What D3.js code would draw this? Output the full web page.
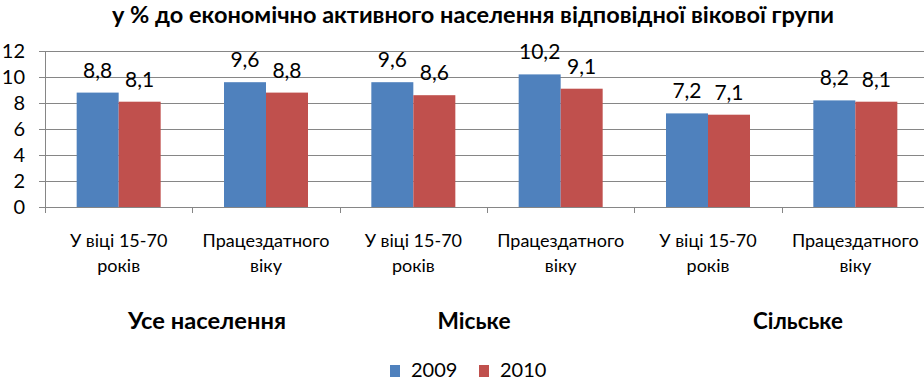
<!DOCTYPE html>
<html><head><meta charset="utf-8">
<script src="https://cdn.jsdelivr.net/npm/d3@7"></script>
<style>body{margin:0;background:#fff}svg{display:block}text{font-family:Lato,"Open Sans",sans-serif}</style>
</head><body><svg id="c" width="924" height="379"></svg>
<script>
const categories = ["У віці 15-70|років","Працездатного|віку","У віці 15-70|років","Працездатного|віку","У віці 15-70|років","Працездатного|віку"];
const groups = ["Усе населення","Міське","Сільське"];
const groupCenters = [207,474,798];
const groupWidths = [158,73,90];
const seriesNames = ["2009","2010"];
const v2009 = [8.8,9.6,9.6,10.2,7.2,8.2];
const v2010 = [8.1,8.8,8.6,9.1,7.1,8.1];
const labels2009 = ["8,8","9,6","9,6","10,2","7,2","8,2"];
const labels2010 = ["8,1","8,8","8,6","9,1","7,1","8,1"];
const yTicks = [0,2,4,6,8,10,12];
const colors = ["#4F81BD","#C0504D"];
const title = "у % до економічно активного населення відповідної вікової групи";

(function(){
const svg = d3.select("#c");
const pL=45, pR=929, pT=51, pB=207;
const x = d3.scaleBand().domain(d3.range(categories.length)).range([pL,pR]);
const y = d3.scaleLinear().domain([0,12]).range([pB,pT]);
const barW = 42;
const x1 = d3.scaleBand().domain([0,1]).range([0,barW*2]);

svg.append("text").attr("x",473).attr("y",23).attr("text-anchor","middle")
  .attr("font-weight","bold").attr("font-size",22)
  .attr("textLength",722).attr("lengthAdjust","spacingAndGlyphs").text(title);

svg.append("g").selectAll("line").data(yTicks).join("line")
  .attr("x1",pL-6).attr("x2",924).attr("y1",d=>Math.round(y(d))+0.5).attr("y2",d=>Math.round(y(d))+0.5)
  .attr("stroke","#868686").attr("stroke-width",1);
svg.append("line").attr("x1",pL+0.5).attr("x2",pL+0.5).attr("y1",pT).attr("y2",pB)
  .attr("stroke","#868686");
svg.append("g").selectAll("text").data(yTicks).join("text")
  .attr("x",25).attr("y",d=>y(d)+7).attr("text-anchor","end").attr("font-size",20).text(d=>d);
svg.append("g").selectAll("line").data(d3.range(categories.length)).join("line")
  .attr("x1",d=>Math.round(x(d))+0.5).attr("x2",d=>Math.round(x(d))+0.5)
  .attr("y1",pB).attr("y2",pB+6).attr("stroke","#868686");

const data = categories.map((c,i)=>({i, vals:[v2009[i],v2010[i]], labs:[labels2009[i],labels2010[i]]}));
const gx = svg.append("g");
data.forEach(d=>{
  const x0 = x(d.i) + (x.bandwidth()-barW*2)/2;
  d.vals.forEach((v,s)=>{
    gx.append("rect").attr("x",x0+x1(s)).attr("y",y(v)).attr("width",x1.bandwidth())
      .attr("height",y(0)-y(v)).attr("fill",colors[s]);
    gx.append("text").attr("x",x0+x1(s)+x1.bandwidth()/2).attr("y",y(v)-15)
      .attr("text-anchor","middle").attr("font-size",21).text(d.labs[s]);
  });
});
const cl = svg.append("g");
categories.forEach((c,i)=>{
  const parts = c.split("|");
  const t = cl.append("text").attr("text-anchor","middle").attr("font-size",18);
  parts.forEach((p,k)=>t.append("tspan").attr("x",x(i)+x.bandwidth()/2).attr("y",247+k*25).text(p));
});
svg.append("g").selectAll("text").data(groups).join("text")
  .attr("x",(d,i)=>groupCenters[i]).attr("y",329).attr("text-anchor","middle")
  .attr("font-weight","bold").attr("font-size",22)
  .attr("textLength",(d,i)=>groupWidths[i]).attr("lengthAdjust","spacingAndGlyphs").text(d=>d);
const lg = svg.append("g");
const legX = [390,479];
seriesNames.forEach((n,i)=>{
  lg.append("rect").attr("x",legX[i]).attr("y",365).attr("width",10).attr("height",12).attr("fill",colors[i]);
  lg.append("text").attr("x",legX[i]+21).attr("y",377).attr("font-size",20).text(n);
});
})();
</script></body></html>
